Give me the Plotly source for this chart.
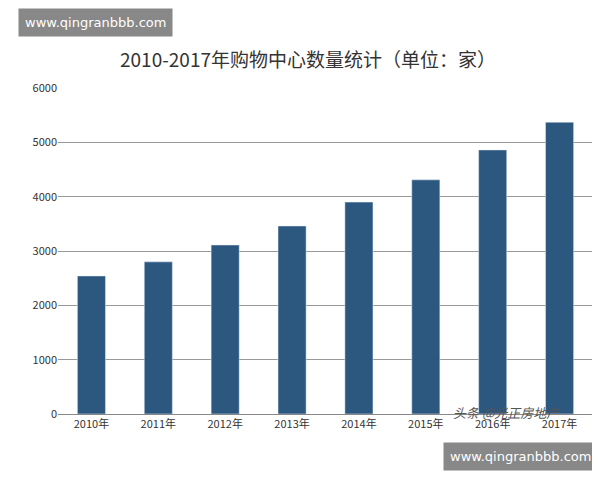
import plotly.graph_objects as go

years = ["2010年", "2011年", "2012年", "2013年", "2014年", "2015年", "2016年", "2017年"]
counts = [2540, 2800, 3110, 3460, 3900, 4310, 4860, 5370]
y_ticks = [0, 1000, 2000, 3000, 4000, 5000, 6000]

fig = go.Figure(go.Bar(x=years, y=counts, marker_color="#2c5880", width=0.42))

fig.update_layout(
    width=600, height=480,
    paper_bgcolor="white", plot_bgcolor="white",
    margin=dict(l=50, r=15, t=80, b=74),
    font=dict(family="Noto Sans CJK SC", color="#333"),
    title=dict(text="2010-2017年购物中心数量统计（单位：家）", x=0.5, y=0.905,
               xanchor="center", font=dict(size=19, color="#333")),
    xaxis=dict(tickfont=dict(size=11), showline=True, linecolor="#888"),
    yaxis=dict(range=[0, 6000], tickvals=y_ticks, gridcolor="#999",
               tickfont=dict(size=11), zeroline=False),
    showlegend=False,
    annotations=[
        dict(text="www.qingranbbb.com", xref="paper", yref="paper", x=-0.075, y=1.2,
             xanchor="left", yanchor="middle", showarrow=False, bgcolor="#888", borderpad=6,
             font=dict(color="white", size=13, family="DejaVu Sans")),
        dict(text="www.qingranbbb.com", xref="paper", yref="paper", x=1.01, y=-0.13,
             xanchor="right", yanchor="middle", showarrow=False, bgcolor="#888", borderpad=6,
             font=dict(color="white", size=13, family="DejaVu Sans")),
        dict(text="<i>头条 @光正房地产</i>", xref="paper", yref="paper", x=0.84, y=0.005,
             xanchor="center", yanchor="middle", showarrow=False,
             font=dict(color="#555", size=13)),
    ],
)

fig.write_html("out.html")
